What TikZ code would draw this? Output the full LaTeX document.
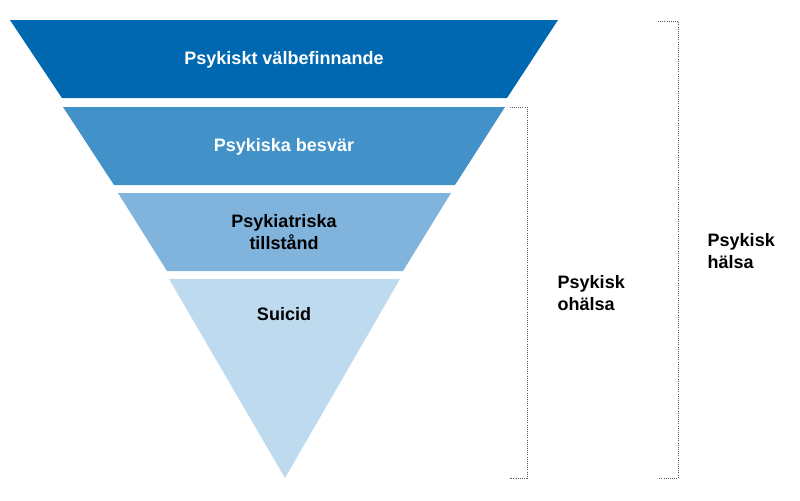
\documentclass[tikz,border=0pt]{standalone}
\usepackage{fontspec}
\setmainfont{Liberation Sans}
\usetikzlibrary{positioning}
\definecolor{bandA}{HTML}{0067B1}
\definecolor{bandB}{HTML}{4391C9}
\definecolor{bandC}{HTML}{80B4DD}
\definecolor{bandD}{HTML}{BDDAEE}
\begin{document}
\begin{tikzpicture}[x=0.75pt,y=-0.75pt,
  lbl/.style={font=\fontsize{13.5}{16}\selectfont\bfseries, align=center},
  side/.style={font=\fontsize{13.5}{16}\selectfont\bfseries, align=left, anchor=west},
  brace/.style={densely dotted, gray!70!black, line width=0.6pt}]
 \useasboundingbox (0,0) rectangle (800,500);
 % bands
 \fill[bandA] (10,20) -- (558,20) -- (507,98) -- (62,98) -- cycle;
 \fill[bandB] (63,107) -- (505,107) -- (455,185) -- (114,185) -- cycle;
 \fill[bandC] (118,193) -- (451,193) -- (403,271) -- (167,271) -- cycle;
 \fill[bandD] (169,279) -- (400,279) -- (285,478) -- cycle;
 \node[lbl, white] (valbef) at (284,60) {Psykiskt välbefinnande};
 \node[lbl, white] (besvar) at (284,147) {Psykiska besvär};
 \node[lbl] (tillst) at (284,232) {Psykiatriska\\tillstånd};
 \node[lbl] (suicid) at (284,314) {Suicid};
 % brackets
 \coordinate (ht) at (678,21);
 \coordinate (hb) at (678,478);
 \coordinate (ot) at (527,107);
 \coordinate (ob) at (527,478);
 \draw[brace] ([xshift=-15pt]ht) -- (ht) -- (hb) -- ([xshift=-15pt]hb);
 \draw[brace] ([xshift=-13pt]ot) -- (ot) -- (ob) -- ([xshift=-13pt]ob);
 \node[side] (halsa) at (703,251) {Psykisk\\hälsa};
 \node[side] (ohalsa) at (553,293) {Psykisk\\ohälsa};
\end{tikzpicture}
\end{document}
